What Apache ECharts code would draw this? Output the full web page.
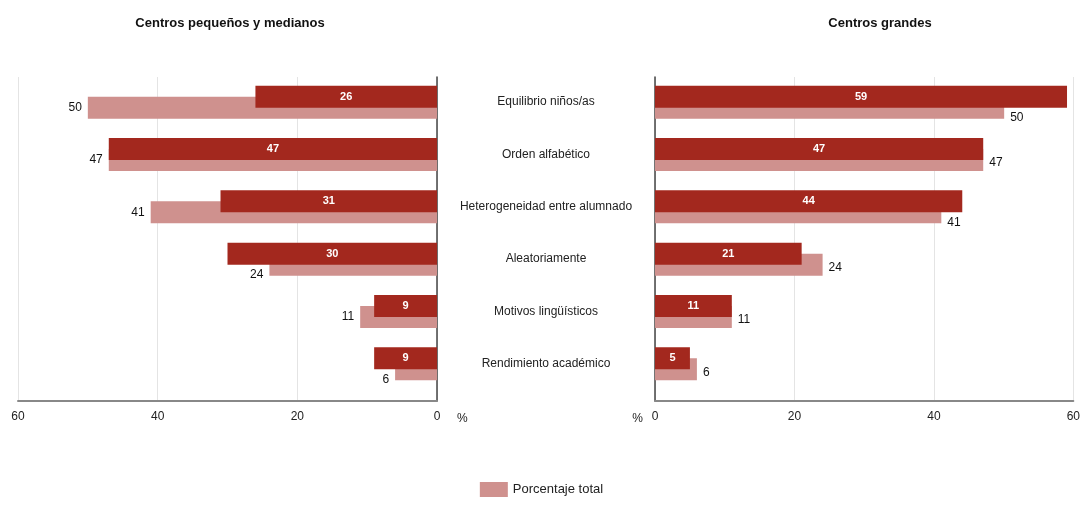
<!DOCTYPE html>
<html><head><meta charset="utf-8">
<script src="https://cdn.jsdelivr.net/npm/echarts@6/dist/echarts.min.js"></script>
<style>html,body{margin:0;padding:0;background:#fff}#c{width:1083px;height:506px}</style>
</head><body><div id="c"></div>
<script>
const categories = ['Equilibrio niños/as','Orden alfabético','Heterogeneidad entre alumnado','Aleatoriamente','Motivos lingüísticos','Rendimiento académico'];
const smallMedium = [26, 47, 31, 30, 9, 9];
const large = [59, 47, 44, 21, 11, 5];
const totalPct = [50, 47, 41, 24, 11, 6];

const DARK = '#a3281e', LIGHT = '#cf918e';
const chart = echarts.init(document.getElementById('c'));
const axisFont = {fontFamily:'Liberation Sans', fontSize:12, color:'#222'};
const darkLabel = {show:true, position:'inside', color:'#fff', fontWeight:'bold', fontSize:11, fontFamily:'Liberation Sans'};
// push the total label down when the darker bar extends past it
function totalData(other, base){
  return totalPct.map((v,i)=>({value:v, label:{offset:[0, other[i] > v ? 10 : base]}}));
}
const nameStyle = Object.assign({verticalAlign:'top', padding:[12,0,0,0]}, axisFont);
const frameX = (inv, gap, idx) => ({gridIndex:idx, type:'value', min:0, max:60, interval:20, inverse:inv, name:'%', nameLocation:'start', nameGap:gap,
     nameTextStyle:nameStyle,
     axisLine:{show:true,lineStyle:{color:'#888',width:2}}, axisTick:{show:false}, axisLabel:Object.assign({margin:10},axisFont),
     splitLine:{show:true,lineStyle:{color:'#e4e4e4'}}});
const frameY = (pos, idx) => ({gridIndex:idx, type:'value', min:0, max:1, position:pos,
     axisLine:{show:true,lineStyle:{color:'#444',width:1.5}}, axisTick:{show:false}, axisLabel:{show:false}, splitLine:{show:false}});
chart.setOption({
  animation:false,
  title:[
    {text:'Centros pequeños y medianos', left:225, top:12, textAlign:'center', textStyle:{fontSize:13,fontWeight:'bold',fontFamily:'Liberation Sans',color:'#111'}},
    {text:'Centros grandes', left:875, top:12, textAlign:'center', textStyle:{fontSize:13,fontWeight:'bold',fontFamily:'Liberation Sans',color:'#111'}}
  ],
  legend:{data:['Porcentaje total'], bottom:4, left:'center', icon:'rect', itemWidth:28, itemHeight:15, textStyle:{fontSize:13,fontFamily:'Liberation Sans',color:'#222'}},
  grid:[
    {left:18, right:646, top:77, bottom:105},
    {left:18, right:646, top:76, bottom:116},
    {left:655, right:9, top:77, bottom:105},
    {left:655, right:9, top:76, bottom:116}
  ],
  xAxis:[
    frameX(true, 20, 0),
    {gridIndex:1, type:'value', min:0, max:60, inverse:true, show:false},
    frameX(false, 12, 2),
    {gridIndex:3, type:'value', min:0, max:60, show:false}
  ],
  yAxis:[
    frameY('right', 0),
    {gridIndex:1, type:'category', data:categories, inverse:true, position:'right',
     axisLine:{show:false}, axisTick:{show:false},
     axisLabel:Object.assign({margin:109, align:'center'},axisFont)},
    frameY('left', 2),
    {gridIndex:3, type:'category', data:categories, inverse:true, position:'left',
     axisLine:{show:false}, axisTick:{show:false}, axisLabel:{show:false}}
  ],
  series:[
    {name:'Centros pequeños y medianos', type:'bar', xAxisIndex:1, yAxisIndex:1, data:smallMedium, barWidth:22, barGap:'-50%',
     itemStyle:{color:DARK}, z:3, label:darkLabel},
    {name:'Porcentaje total', type:'bar', xAxisIndex:1, yAxisIndex:1, data:totalData(smallMedium, 0), barWidth:22, barGap:'-50%',
     itemStyle:{color:LIGHT}, z:2,
     label:{show:true, position:'left', color:'#111', fontSize:12, fontFamily:'Liberation Sans', distance:6}},
    {name:'Centros grandes', type:'bar', xAxisIndex:3, yAxisIndex:3, data:large, barWidth:22, barGap:'-50%',
     itemStyle:{color:DARK}, z:3, label:darkLabel},
    {name:'Porcentaje total', type:'bar', xAxisIndex:3, yAxisIndex:3, data:totalData(large, 3), barWidth:22, barGap:'-50%',
     itemStyle:{color:LIGHT}, z:2,
     label:{show:true, position:'right', color:'#111', fontSize:12, fontFamily:'Liberation Sans', distance:6}}
  ]
});
</script></body></html>
